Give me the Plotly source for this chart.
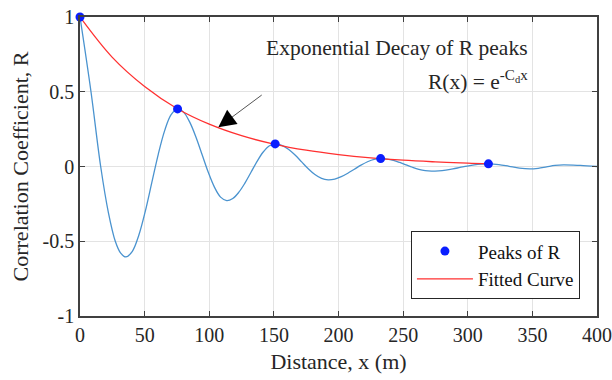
import plotly.graph_objects as go

# Correlation coefficient curve R(x)
dist = [0, 8.5, 16, 22, 27.3, 31.5, 35.5,
        40.5, 45.5, 50.5, 55.5, 60.5, 65.5, 70.5, 75.5,
        80.25, 85, 89.75, 94.5, 99.25, 104, 108.75, 113.5,
        118.2, 122.9, 127.6, 132.3, 137, 141.6, 146.3, 151,
        156.1, 161.25, 166.4, 171.5, 176.6, 181.75, 186.9, 192,
        197.1, 202.15, 207.2, 212.3, 217.4, 222.45, 227.5, 232.6,
        237.5, 242.45, 247.4, 252.3, 257.2, 262.15, 267.1, 272,
        277.5, 283, 288.5, 294, 299.5, 305, 310.5, 316,
        324, 332, 340, 348, 354.5, 361, 367.5, 374, 387, 400]
corr = [1.0, 0.5, 0.0, -0.31, -0.5, -0.58, -0.605,
        -0.567, -0.46, -0.30, -0.11, 0.08, 0.24, 0.347, 0.385,
        0.362, 0.295, 0.196, 0.0785, -0.039, -0.138, -0.205, -0.228,
        -0.214, -0.172, -0.111, -0.0385, 0.034, 0.0955, 0.137, 0.151,
        0.142, 0.116, 0.077, 0.031, -0.015, -0.054, -0.08, -0.089,
        -0.084, -0.068, -0.045, -0.018, 0.009, 0.032, 0.048, 0.053,
        0.05, 0.041, 0.027, 0.011, -0.005, -0.019, -0.028, -0.031,
        -0.029, -0.024, -0.016, -0.0065, 0.003, 0.011, 0.0161, 0.018,
        0.013, 0.001, -0.011, -0.016, -0.012, -0.0025, 0.007, 0.011, 0.007, 0.0]

# Peaks of R
peak_x = [0, 75.5, 151, 232.6, 316]
peak_y = [1.0, 0.385, 0.151, 0.053, 0.018]

# Fitted exponential curve
fit_x = [0, 25, 50, 75, 100, 125, 150, 175, 200, 225, 250, 275, 300, 316]
fit_y = [1.0, 0.73, 0.535, 0.388, 0.283, 0.206, 0.15, 0.109, 0.08, 0.058, 0.042, 0.031, 0.022, 0.018]

x_ticks = [0, 50, 100, 150, 200, 250, 300, 350, 400]
y_ticks = [-1, -0.5, 0, 0.5, 1]
y_tick_text = ["-1", "-0.5", "0", "0.5", "1"]

# arrow (data coords): tail -> tip
arrow_tail = (140.6, 0.478)
arrow_tip = (107, 0.262)

FONT = "Times New Roman, Liberation Serif, serif"
AX = "#404040"
TXT = "#262626"

fig = go.Figure()
fig.add_trace(go.Scatter(x=dist, y=corr, mode="lines", line=dict(color="#4a93cf", width=1.3, shape="spline", smoothing=1.0),
                         showlegend=False, hoverinfo="skip"))
fig.add_trace(go.Scatter(x=fit_x, y=fit_y, mode="lines", name="Fitted Curve",
                         line=dict(color="#ff3030", width=1.3, shape="spline"), legendrank=2))
fig.add_trace(go.Scatter(x=peak_x, y=peak_y, mode="markers", name="Peaks of R",
                         marker=dict(color="#0a1eff", size=9, line=dict(width=0)), legendrank=1, cliponaxis=False))

fig.update_xaxes(range=[0, 400], tickvals=x_ticks, showgrid=True, gridcolor="#e3e3e3", gridwidth=1,
                 zeroline=False, showline=True, linecolor=AX, linewidth=1.5, mirror="ticks",
                 ticks="inside", ticklen=5, tickcolor=AX, tickfont=dict(family=FONT, size=20, color=TXT),
                 automargin=False,
                 title=dict(text="Distance, x (m)", font=dict(family=FONT, size=22, color=TXT), standoff=9))
fig.update_yaxes(range=[-1, 1], tickvals=y_ticks, ticktext=y_tick_text, showgrid=True, gridcolor="#e3e3e3", gridwidth=1,
                 zeroline=False, showline=True, linecolor=AX, linewidth=1.5, mirror="ticks",
                 ticks="inside", ticklen=5, tickcolor=AX, tickfont=dict(family=FONT, size=20, color=TXT),
                 automargin=False,
                 title=dict(text="Correlation Coefficient, R", font=dict(family=FONT, size=22, color=TXT), standoff=8))

# arrow shaft (gray) and head (black)
fig.add_annotation(x=arrow_tail[0], y=arrow_tail[1], ax=arrow_tip[0], ay=arrow_tip[1],
                   xref="x", yref="y", axref="x", ayref="y",
                   text="", showarrow=True, arrowhead=0, arrowwidth=1, arrowcolor="#555555")
head_base = (arrow_tip[0] + 0.25 * (arrow_tail[0] - arrow_tip[0]), arrow_tip[1] + 0.25 * (arrow_tail[1] - arrow_tip[1]))
fig.add_annotation(x=arrow_tip[0], y=arrow_tip[1], ax=head_base[0], ay=head_base[1],
                   xref="x", yref="y", axref="x", ayref="y",
                   text="", showarrow=True, arrowhead=2, arrowsize=3.5, arrowwidth=1, arrowcolor="#000000")

pw, ph = 612 - 80 - 15, 380 - 16.5 - 64
def px_to_paper(xp, yp):
    return (xp - 80) / pw, 1 - (yp - 16.5) / ph

ax1, ay1 = px_to_paper(530, 48)
fig.add_annotation(x=ax1, y=ay1, xref="paper", yref="paper", text="Exponential Decay of R peaks",
                   showarrow=False, xanchor="right", yanchor="middle",
                   font=dict(family=FONT, size=21.5, color=TXT))
ax2, ay2 = px_to_paper(530, 80)
fig.add_annotation(x=ax2, y=ay2, xref="paper", yref="paper", text="R(x) = e<sup>-C<sub>d</sub>x</sup>",
                   showarrow=False, xanchor="right", yanchor="middle",
                   font=dict(family=FONT, size=21.5, color=TXT))

fig.update_layout(
    width=612, height=380, margin=dict(l=80, r=15, t=16.5, b=64, autoexpand=False),
    paper_bgcolor="white", plot_bgcolor="white",
    font=dict(family=FONT, color=TXT),
    legend=dict(x=0.967, y=0.056, xanchor="right", yanchor="bottom", bgcolor="white",
                bordercolor="#262626", borderwidth=1, font=dict(family=FONT, size=19, color="#111111"),
                tracegroupgap=0, itemwidth=56),
)

fig.write_html("out.html")
